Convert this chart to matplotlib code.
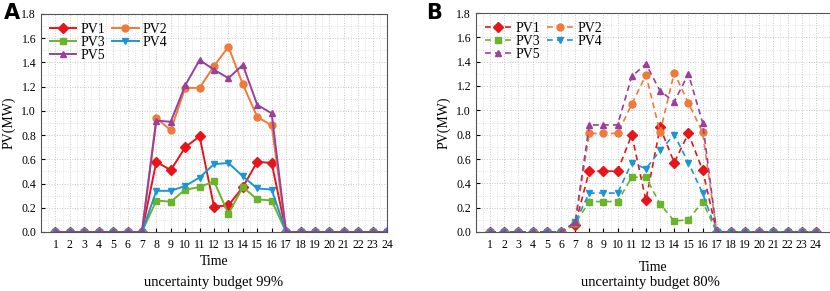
import numpy as np
import matplotlib.pyplot as plt
from matplotlib.ticker import MultipleLocator

plt.rcParams['font.family'] = ['Liberation Serif', 'DejaVu Serif']

hours = list(range(1, 25))
series_names = ['PV1', 'PV2', 'PV3', 'PV4', 'PV5']

# daytime values, hours 8..16 (others zero)
pv_a = {
    'PV1': [0.58, 0.51, 0.70, 0.79, 0.21, 0.22, 0.37, 0.58, 0.57],
    'PV2': [0.94, 0.84, 1.19, 1.19, 1.37, 1.53, 1.22, 0.95, 0.88],
    'PV3': [0.26, 0.25, 0.35, 0.37, 0.42, 0.15, 0.37, 0.27, 0.26],
    'PV4': [0.34, 0.34, 0.38, 0.45, 0.56, 0.57, 0.46, 0.36, 0.35],
    'PV5': [0.92, 0.91, 1.21, 1.42, 1.34, 1.27, 1.38, 1.05, 0.98],
}
pv_b = {
    'PV1': [0.50, 0.50, 0.50, 0.80, 0.26, 0.86, 0.57, 0.81, 0.51],
    'PV2': [0.81, 0.81, 0.81, 1.05, 1.29, 0.82, 1.31, 1.06, 0.82],
    'PV3': [0.25, 0.25, 0.25, 0.45, 0.45, 0.23, 0.09, 0.10, 0.25],
    'PV4': [0.32, 0.32, 0.32, 0.57, 0.52, 0.67, 0.80, 0.57, 0.32],
    'PV5': [0.88, 0.88, 0.88, 1.28, 1.38, 1.16, 1.07, 1.30, 0.90],
}
# small values at hour 7 in panel B
hour7_b = {'PV1': 0.06, 'PV2': 0.07, 'PV3': 0.07, 'PV4': 0.08, 'PV5': 0.08}

colors = {'PV1': '#e8141a', 'PV2': '#f07a3c', 'PV3': '#6ab42d',
          'PV4': '#1e95d3', 'PV5': '#9a3f9c'}
markers = {'PV1': 'D', 'PV2': 'o', 'PV3': 's', 'PV4': 'v', 'PV5': '^'}


def full_day(day_vals, h7=0.0):
    vals = [0.0] * 24
    vals[6] = h7
    for i, v in enumerate(day_vals):
        vals[7 + i] = v
    return vals


def setup_axes(ax, xmax, xpad):
    ax.set_xlim(0, xmax)
    ax.set_ylim(0, 1.8)
    ax.set_xticks(hours)
    ax.yaxis.set_major_locator(MultipleLocator(0.2))
    ax.yaxis.set_minor_locator(MultipleLocator(0.1))
    ax.xaxis.set_minor_locator(MultipleLocator(0.5))
    ax.set_yticklabels([f'{v:.1f}' for v in ax.get_yticks()])
    ax.grid(which='major', color='#c8c8c8', ls=':', lw=0.7)
    ax.grid(which='minor', color='#dcdcdc', ls=':', lw=0.6)
    ax.tick_params(which='both', direction='in', labelsize=8.5, length=3)
    ax.tick_params(which='minor', length=0)
    ax.tick_params(axis='x', pad=5)
    for s in ax.spines.values():
        s.set_color('#555555')
        s.set_linewidth(0.8)
    ax.set_xlabel('Time', fontsize=10, labelpad=xpad)
    ax.set_ylabel('PV(MW)', fontsize=10, labelpad=4)


fig = plt.figure(figsize=(8.3, 2.91), dpi=100)
ax_a = fig.add_axes([41 / 830, 1 - 232 / 291, 346 / 830, 218 / 291])
ax_b = fig.add_axes([476 / 830, 1 - 232 / 291, 354 / 830, 219 / 291])

for name in series_names:
    ax_a.plot(hours, full_day(pv_a[name]), color=colors[name], marker=markers[name],
              ms=5, lw=1.4, label=name)
    ax_b.plot(hours, full_day(pv_b[name], hour7_b[name]), color=colors[name],
              marker=markers[name], ms=5, lw=1.2, ls=(0, (3.5, 2.5)), label=name)

setup_axes(ax_a, 24, 3)
setup_axes(ax_b, 25, 7)

# legend filled row-wise: PV1 PV2 / PV3 PV4 / PV5
order = [0, 2, 4, 1, 3]
for ax in (ax_a, ax_b):
    h, l = ax.get_legend_handles_labels()
    ax.legend([h[i] for i in order], [l[i] for i in order], ncol=2, loc='upper left',
              frameon=False, fontsize=10, handlelength=1.9, handletextpad=0.3,
              columnspacing=0.5, labelspacing=0.0, borderaxespad=0.25)

fig.text(0.005, 0.99, 'A', fontsize=15, fontweight='bold', family='DejaVu Sans', va='top')
fig.text(0.513, 0.99, 'B', fontsize=15, fontweight='bold', family='DejaVu Sans', va='top')
fig.text(214 / 830, 1 - 286 / 291, 'uncertainty budget 99%', fontsize=10.5, ha='center', va='baseline')
fig.text(650 / 830, 1 - 286 / 291, 'uncertainty budget 80%', fontsize=10.5, ha='center', va='baseline')

fig.savefig('out.png', dpi=100)
